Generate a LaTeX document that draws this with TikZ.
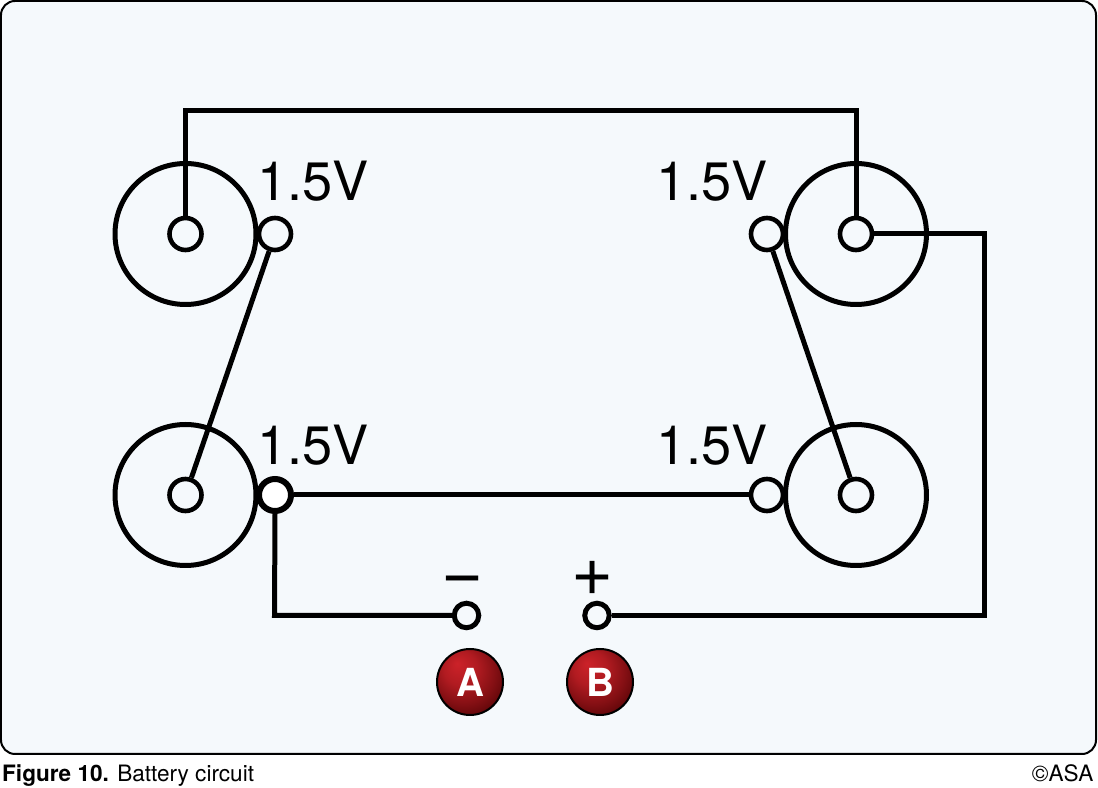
\documentclass[tikz,border=0pt]{standalone}
\usepackage{fontspec}
\setmainfont{TeX Gyre Heros}
\usepackage{tikz}
\usetikzlibrary{arrows.meta,positioning,calc}

\definecolor{panelblue}{HTML}{F5F9FC}
\definecolor{ballred}{HTML}{CC2229}
\definecolor{balldark}{HTML}{500204}
\pgfdeclareradialshading{redball}{\pgfpoint{-0.35cm}{0.5cm}}{%
  color(0cm)=(ballred); color(0.45cm)=(ballred!78!balldark); color(0.85cm)=(ballred!42!balldark); color(1.25cm)=(balldark); color(1.76cm)=(balldark)}

\tikzset{
  wire/.style={line width=0.5mm, black},
  cell/.style={draw, circle, line width=0.5mm, minimum size=14.1mm, inner sep=0pt},
  post/.style={draw, circle, line width=0.46mm, minimum size=3.2mm, inner sep=0pt, fill=panelblue},
  lead/.style={draw, circle, line width=0.5mm, minimum size=2.45mm, inner sep=0pt, fill=panelblue},
  volt/.style={font=\fontsize{15.4pt}{17pt}\selectfont, inner sep=0pt},
  sign/.style={font=\fontsize{20.5pt}{22pt}\selectfont, inner sep=0pt},
  probe/.style={draw=black, circle, line width=0.2mm, minimum size=6.6mm, inner sep=0pt, shading=redball,
    text=white, font=\fontsize{11pt}{12pt}\selectfont\bfseries},
  caption/.style={font=\fontsize{6.42pt}{8pt}\selectfont, inner sep=0pt},
}

\begin{document}
\begin{tikzpicture}[x=0.1mm, y=-0.1mm]
  \useasboundingbox (0,0) rectangle (1098,788);

  % panel
  \draw[fill=panelblue, line width=0.2mm, rounded corners=1.4mm] (1,1) rectangle (1096,754);

  % cells
  \node[cell] (cellTL) at (185.5,234) {};
  \node[cell] (cellTR) at (856,234) {};
  \node[cell] (cellBL) at (185.5,495) {};
  \node[cell] (cellBR) at (856,495) {};

  % wire corners
  \coordinate (cornerTL) at (185.5,111);
  \coordinate (cornerTR) at (856,111);
  \coordinate (cornerR) at (984,234);
  \coordinate (cornerBR) at (984,615.5);
  \coordinate (cornerBL) at (274.5,615.5);

  % posts
  \node[post] (plusTL) at (185.5,234) {};
  \node[post] (minusTL) at (275,234) {};
  \node[post] (plusTR) at (856,234) {};
  \node[post] (minusTR) at (767,234) {};
  \node[post] (plusBL) at (185.5,495) {};
  \node[post, fill=white, line width=0.6mm] (minusBL) at (275,495) {};
  \node[post] (plusBR) at (856,495) {};
  \node[post] (minusBR) at (767,495) {};

  % leads
  \node[lead] (leadA) at (466.5,615.5) {};
  \node[lead] (leadB) at (597,615.5) {};

  % connections
  \draw[wire] (plusTL) -- (cornerTL) -- (cornerTR) -- (plusTR);
  \draw[wire] (minusTL) -- (plusBL);
  \draw[wire] (minusTR) -- (plusBR);
  \draw[wire] (minusBL) -- (minusBR);
  \draw[wire] (plusTR) -- (cornerR) -- (cornerBR) -- (leadB);
  \draw[wire] (minusBL.south) -- (cornerBL) -- (leadA);

  % labels
  \node[volt] (voltTL) at (313,181) {1.5V};
  \node[volt] (voltTR) at (712,181) {1.5V};
  \node[volt] (voltBL) at (313,445) {1.5V};
  \node[volt] (voltBR) at (712,445) {1.5V};
  \node[sign] (signA) at (462.5,586) {−};
  \node[sign] (signB) at (592.5,578) {+};

  % probes
  \node[probe] (probeA) at (470,682) {A};
  \node[probe] (probeB) at (600,682) {B};

  % caption
  \node[caption, anchor=base west] (figcap) at (1.5,782) {\textbf{Figure 10.} Battery circuit};
  \node[caption, anchor=base east] (figcopy) at (1094,782) {©ASA};
\end{tikzpicture}
\end{document}
